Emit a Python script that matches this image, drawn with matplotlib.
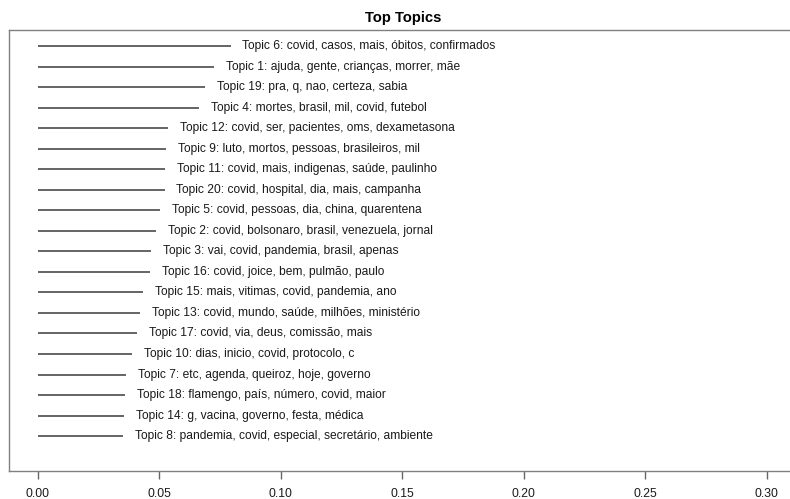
import numpy as np
import matplotlib.pyplot as plt

plt.rcParams['font.family'] = ['Liberation Sans', 'DejaVu Sans']

# topics ordered from most to least expected proportion
topic_ids = [6, 1, 19, 4, 12, 9, 11, 20, 5, 2, 3, 16, 15, 13, 17, 10, 7, 18, 14, 8]
topic_words = [
    "covid, casos, mais, óbitos, confirmados",
    "ajuda, gente, crianças, morrer, mãe",
    "pra, q, nao, certeza, sabia",
    "mortes, brasil, mil, covid, futebol",
    "covid, ser, pacientes, oms, dexametasona",
    "luto, mortos, pessoas, brasileiros, mil",
    "covid, mais, indigenas, saúde, paulinho",
    "covid, hospital, dia, mais, campanha",
    "covid, pessoas, dia, china, quarentena",
    "covid, bolsonaro, brasil, venezuela, jornal",
    "vai, covid, pandemia, brasil, apenas",
    "covid, joice, bem, pulmão, paulo",
    "mais, vitimas, covid, pandemia, ano",
    "covid, mundo, saúde, milhões, ministério",
    "covid, via, deus, comissão, mais",
    "dias, inicio, covid, protocolo, c",
    "etc, agenda, queiroz, hoje, governo",
    "flamengo, país, número, covid, maior",
    "g, vacina, governo, festa, médica",
    "pandemia, covid, especial, secretário, ambiente",
]
proportions = [0.0794, 0.0725, 0.0688, 0.0663, 0.0536, 0.0528, 0.0523, 0.0521,
               0.0503, 0.0486, 0.0466, 0.0462, 0.0433, 0.0421, 0.0408, 0.0388,
               0.0363, 0.0359, 0.0355, 0.0351]
x_ticks = [0.00, 0.05, 0.10, 0.15, 0.20, 0.25, 0.30]

fig = plt.figure(figsize=(7.9, 4.99), dpi=100)
ax = fig.add_axes([9 / 790, 28 / 499, 1 - 9 / 790, 441 / 499])

n = len(topic_ids)
ypos = np.arange(n, 0, -1)
ax.hlines(ypos, 0, proportions, color='#3a3a3a', lw=1.1)
for y, tid, words, p in zip(ypos, topic_ids, topic_words, proportions):
    ax.annotate(f"Topic {tid}: {words}", (p, y), xytext=(8.3, 0),
                textcoords='offset points', va='center', ha='left',
                fontsize=8.65, color='#1a1a1a')

ax.set_xlim(-0.0119, 0.3095)
ax.set_ylim(-0.7, n + 0.78)
ax.set_yticks([])
ax.set_xticks(x_ticks)
ax.set_xticklabels([f"{t:.2f}" for t in x_ticks])
ax.tick_params(axis='x', length=5.5, width=1.0, color='#666666', pad=7,
               labelsize=8.8, labelcolor='#1a1a1a')
for side in ['left', 'top', 'bottom']:
    ax.spines[side].set_color('#808080')
    ax.spines[side].set_linewidth(1.0)
ax.spines['right'].set_visible(False)

ax.set_title("Top Topics", fontsize=10.6, fontweight='bold', pad=6, x=0.505)

fig.savefig("out.png", dpi=100)
